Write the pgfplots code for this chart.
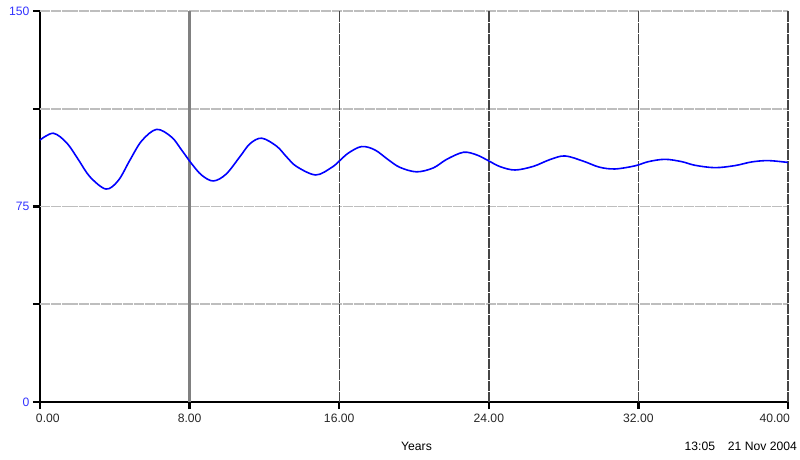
\documentclass[border=0pt]{standalone}
\usepackage{pgfplots}
\pgfplotsset{compat=1.18}
\usepackage{fontspec}
\setmainfont{Liberation Sans}
\usetikzlibrary{calc}
\definecolor{vblue}{RGB}{0,0,255}
\definecolor{lblue}{RGB}{50,50,255}
\definecolor{hgrid}{RGB}{190,190,190}
\definecolor{vgrid}{RGB}{70,70,70}
\begin{document}
\begin{tikzpicture}
\begin{axis}[
  name=ax,
  scale only axis,
  width=748bp, height=391bp,
  xmin=0, xmax=40, ymin=0, ymax=150,
  axis x line*=bottom, axis y line*=left,
  axis line style={line width=2.6bp, black},
  xtick={0,8,16,24,32,40},
  xticklabels={\makebox[0pt][l]{\hspace{-4bp}0.00},8.00,16.00,24.00,32.00,\makebox[0pt][r]{40.00\hspace{-2bp}}},
  ytick={0,37.5,75,112.5,150},
  yticklabels={0,,75,,150},
  tick align=outside,
  major tick length=7bp,
  tick style={line width=2.4bp, black},
  every tick label/.append style={font=\fontsize{12.2}{13}\selectfont},
  yticklabel style={text=lblue, xshift=0bp},
  xticklabel style={text=black!85, yshift=-1bp},
  clip=false,
]
\draw[hgrid, line width=1.8bp, dash pattern=on 5bp off 0.5bp] (axis cs:0,37.5) -- (axis cs:40,37.5);
\draw[hgrid, line width=1.8bp, dash pattern=on 5bp off 0.5bp] (axis cs:0,75) -- (axis cs:40,75);
\draw[hgrid, line width=1.8bp, dash pattern=on 5bp off 0.5bp] (axis cs:0,112.5) -- (axis cs:40,112.5);
\draw[hgrid, line width=1.8bp, dash pattern=on 5bp off 0.5bp] (axis cs:0,150) -- (axis cs:40,150);
\draw[gray, line width=3bp] (axis cs:8,0) -- (axis cs:8,150);
\draw[vgrid, line width=1.4bp, dash pattern=on 5bp off 0.5bp] (axis cs:16,0) -- (axis cs:16,150);
\draw[vgrid, line width=1.4bp, dash pattern=on 5bp off 0.5bp] (axis cs:24,0) -- (axis cs:24,150);
\draw[vgrid, line width=1.4bp, dash pattern=on 5bp off 0.5bp] (axis cs:32,0) -- (axis cs:32,150);
\draw[vgrid, line width=1.4bp, dash pattern=on 5bp off 0.5bp] (axis cs:40,0) -- (axis cs:40,150);
\addplot[vblue, line width=1.6bp, smooth, tension=0.55] coordinates {
(0,100.5) (0.71,103.1) (1.43,99.4) (2.05,93.0) (2.67,86.4) (3.53,81.7)
(4.19,85.0) (4.81,92.8) (5.44,100.2) (6.24,104.6) (7.04,101.6) (7.58,96.6)
(8.11,91.4) (8.65,87.0) (9.27,84.8) (9.95,87.4) (10.70,94.2) (11.23,99.1)
(11.86,101.2) (12.66,98.1) (13.19,94.0) (13.73,90.3) (14.75,87.1) (15.60,90.0)
(16.0,92.4) (16.49,95.5) (17.20,98.0) (17.91,96.7) (18.63,92.9) (19.25,90.0)
(20.14,88.3) (21.03,89.8) (21.75,93.1) (22.64,95.8) (23.35,94.8) (23.97,92.6)
(24.60,90.3) (25.40,89.0) (26.38,90.4) (27.27,93.0) (28.07,94.4) (29.05,92.4)
(29.91,90.1) (30.75,89.4) (31.82,90.6) (32.53,92.2) (33.42,93.1) (34.32,92.2)
(35.03,90.8) (36.10,89.9) (37.17,90.7) (38.06,92.1) (38.95,92.6) (40,91.9)
};
\end{axis}
\node[font=\fontsize{12.2}{13}\selectfont, anchor=base] at ($(ax.south west)+(376.5bp,-48bp)$) {Years};
\node[font=\fontsize{12.2}{13}\selectfont, anchor=base east, inner sep=0pt] at ($(ax.south east)+(9bp,-48bp)$) {13:05\hspace{1.05em}21 Nov 2004};
\pgfresetboundingbox
\useasboundingbox ($(ax.south west)+(-40bp,-57bp)$) rectangle ($(ax.north east)+(12bp,11bp)$);
\end{tikzpicture}
\end{document}
